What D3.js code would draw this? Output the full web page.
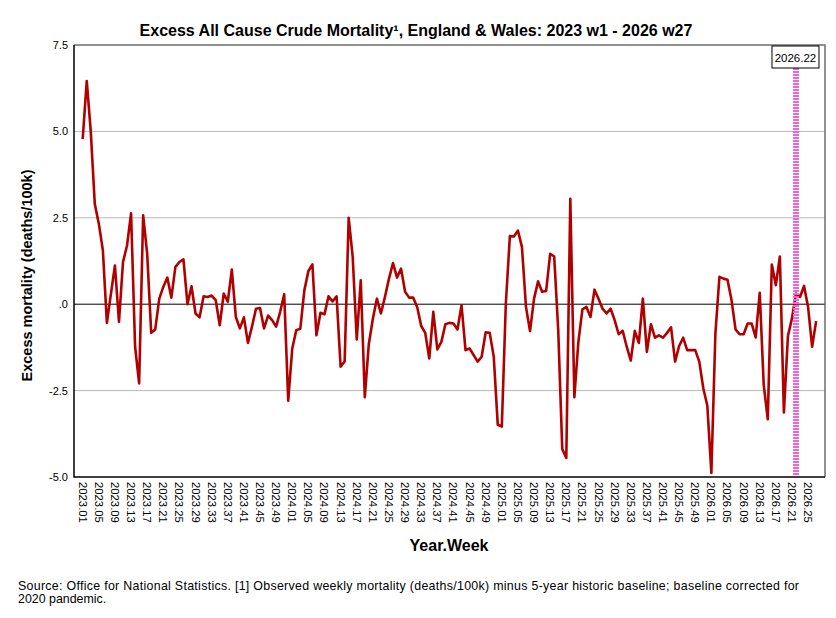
<!DOCTYPE html>
<html>
<head>
<meta charset="utf-8">
<script src="https://cdn.jsdelivr.net/npm/d3@7"></script>
<style>
  body { margin: 0; background: #fff; }
  svg { font-family: "Liberation Sans", Arial, sans-serif; }
</style>
</head>
<body>
<svg id="chart" width="836" height="618"></svg>
<script>
// weeks covered: 2023 w1 .. 2026 w27
const years = [2023, 2024, 2025, 2026];
const weeksInYear = [52, 52, 52, 27];

// excess mortality (deaths/100k), one value per week
const excess = [
  4.78, 6.46, 5.0, 2.9, 2.33, 1.56, -0.54, 0.3, 1.12, -0.51,
  1.22, 1.7, 2.63, -1.23, -2.29, 2.57, 1.46, -0.83, -0.73, 0.16,
  0.5, 0.77, 0.19, 1.08, 1.22, 1.3, 0.0, 0.52, -0.27, -0.38,
  0.23, 0.21, 0.25, 0.12, -0.61, 0.31, 0.07, 1.0, -0.37, -0.7,
  -0.38, -1.12, -0.65, -0.13, -0.11, -0.7, -0.33, -0.46, -0.65, -0.22,
  0.29, -2.79,
  -1.28, -0.75, -0.71, 0.4, 0.96, 1.15, -0.9, -0.25, -0.29, 0.23,
  0.08, 0.23, -1.81, -1.66, 2.5, 1.37, -1.02, 0.69, -2.69, -1.15,
  -0.42, 0.16, -0.27, 0.21, 0.74, 1.19, 0.77, 1.03, 0.36, 0.19,
  0.19, -0.08, -0.63, -0.83, -1.57, -0.22, -1.31, -1.09, -0.58, -0.54,
  -0.56, -0.73, -0.03, -1.33, -1.28, -1.47, -1.66, -1.52, -0.81, -0.83,
  -1.52, -3.49,
  -3.54, 0.02, 1.97, 1.96, 2.13, 1.65, -0.08, -0.78, 0.16, 0.66,
  0.36, 0.38, 1.46, 1.38, -0.75, -4.19, -4.45, 3.05, -2.69, -1.09,
  -0.15, -0.08, -0.37, 0.42, 0.16, -0.13, -0.27, -0.13, -0.46, -0.87,
  -0.77, -1.23, -1.63, -0.77, -1.12, 0.16, -1.38, -0.58, -0.97, -0.9,
  -0.97, -0.83, -0.67, -1.66, -1.21, -0.97, -1.33, -1.33, -1.33, -1.66,
  -2.43, -2.94,
  -4.88, -0.85, 0.79, 0.74, 0.71, 0.12, -0.73, -0.87, -0.87, -0.56,
  -0.56, -0.96, 0.33, -2.34, -3.33, 1.15, 0.55, 1.38, -3.13, -0.92,
  -0.41, 0.31, 0.21, 0.53, -0.08, -1.23, -0.49
];

const yTicks = [7.5, 5.0, 2.5, 0, -2.5, -5.0];
const yTickLabels = ["7.5", "5.0", "2.5", ".0", "-2.5", "-5.0"];
const gridValues = [5.0, 2.5, -2.5];
const markerWeek = "2026.22";

// category labels like 2023.01
const weekLabels = [];
years.forEach((yr, k) => {
  for (let w = 1; w <= weeksInYear[k]; w++) {
    weekLabels.push(yr + "." + String(w).padStart(2, "0"));
  }
});
const data = excess.map((v, i) => ({ week: weekLabels[i], idx: i, value: v }));
const tickIdx = d3.range(0, weekLabels.length, 4);

const svg = d3.select("#chart");
const pLeft = 74, pRight = 825, pTop = 45, pBottom = 477;

const x = d3.scaleLinear().domain([-2.16, 184.2]).range([pLeft, pRight]);
const y = d3.scaleLinear().domain([-5, 7.5]).range([pBottom, pTop]);

// gridlines
svg.append("g").selectAll("line").data(gridValues).join("line")
  .attr("x1", pLeft).attr("x2", pRight)
  .attr("y1", d => y(d)).attr("y2", d => y(d))
  .attr("stroke", "#b8b8b8").attr("stroke-width", 1);

// zero line
svg.append("line")
  .attr("x1", pLeft).attr("x2", pRight)
  .attr("y1", y(0)).attr("y2", y(0))
  .attr("stroke", "#000").attr("stroke-width", 1);

// frame: top/right grey, left/bottom black
svg.append("path")
  .attr("d", `M${pLeft},${pTop}H${pRight}V${pBottom}`)
  .attr("fill", "none").attr("stroke", "#6e6e6e").attr("stroke-width", 1.5);
svg.append("path")
  .attr("d", `M${pLeft},${pTop}V${pBottom}H${pRight}`)
  .attr("fill", "none").attr("stroke", "#000").attr("stroke-width", 1.5);

// y axis labels
svg.append("g").selectAll("text").data(yTicks).join("text")
  .attr("x", pLeft - 6).attr("y", d => y(d) + 4)
  .attr("text-anchor", "end").attr("font-size", 11)
  .text((d, i) => yTickLabels[i]);

// x axis labels, rotated
svg.append("g").selectAll("text").data(tickIdx).join("text")
  .attr("transform", d => `translate(${x(d) - 4},${pBottom + 5}) rotate(90)`)
  .attr("font-size", 11.3)
  .text(d => weekLabels[d]);

// series
const line = d3.line().x(d => x(d.idx)).y(d => y(d.value));
svg.append("path").datum(data)
  .attr("d", line)
  .attr("fill", "none")
  .attr("stroke", "#b00000")
  .attr("stroke-width", 2.6)
  .attr("stroke-linejoin", "round");

// marker line at current week
const mi = weekLabels.indexOf(markerWeek);
svg.append("line")
  .attr("x1", x(mi)).attr("x2", x(mi))
  .attr("y1", 68).attr("y2", pBottom - 1)
  .attr("stroke", "#f064d6").attr("stroke-width", 6)
  .attr("stroke-dasharray", "2,1");
const box = svg.append("g");
box.append("rect")
  .attr("x", x(mi) - 24).attr("y", 46).attr("width", 47).attr("height", 22)
  .attr("fill", "#fff").attr("stroke", "#000").attr("stroke-width", 1);
box.append("text")
  .attr("x", x(mi) - 0.5).attr("y", 61.5)
  .attr("text-anchor", "middle").attr("font-size", 11.5)
  .text(markerWeek);

// titles
svg.append("text")
  .attr("x", 416).attr("y", 36)
  .attr("text-anchor", "middle").attr("font-size", 16).attr("font-weight", "bold")
  .text("Excess All Cause Crude Mortality\u00b9, England & Wales: 2023 w1 - 2026 w27");

svg.append("text")
  .attr("transform", `translate(32,${275.5}) rotate(-90)`)
  .attr("text-anchor", "middle").attr("font-size", 14.5).attr("font-weight", "bold")
  .text("Excess mortality (deaths/100k)");

svg.append("text")
  .attr("x", 449).attr("y", 551)
  .attr("text-anchor", "middle").attr("font-size", 16).attr("font-weight", "bold")
  .text("Year.Week");

svg.append("text").attr("font-size", 12.4)
  .attr("x", 18).attr("y", 590)
  .attr("textLength", 781).attr("lengthAdjust", "spacing")
  .text("Source: Office for National Statistics. [1] Observed weekly mortality (deaths/100k) minus 5-year historic baseline; baseline corrected for");
svg.append("text").attr("font-size", 12.4)
  .attr("x", 18).attr("y", 603)
  .text("2020 pandemic.");
</script>
</body>
</html>
